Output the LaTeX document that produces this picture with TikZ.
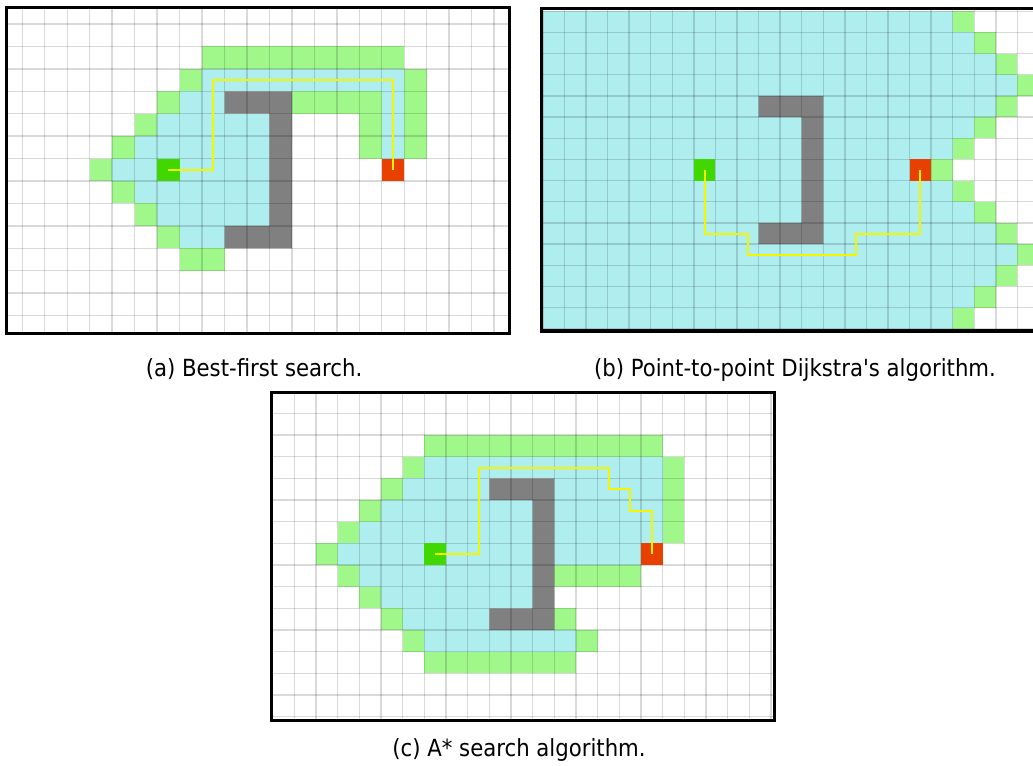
\documentclass[tikz,border=0pt]{standalone}
\usepackage{fontspec}
\setmainfont{DejaVu Sans Condensed}[Ligatures=TeXOff]
\definecolor{closedset}{HTML}{AFEEEE}
\definecolor{openset}{HTML}{A0F88A}
\definecolor{wallc}{HTML}{808080}
\definecolor{startc}{HTML}{40D800}
\definecolor{goalc}{HTML}{E84000}
\definecolor{routec}{HTML}{F5F500}
\newcommand{\cells}[4]{\fill[#1] (#3,#2) rectangle ({#4+1},{#2+1});}
\newcommand{\walls}{\fill[wallc] (10,4) rectangle (13,5) (12,5) rectangle (13,10) (10,10) rectangle (13,11);}
\newcommand{\gridlines}{%
  \foreach \i in {-1,...,24} \draw[gridline] (\i,-1) -- (\i,16);
  \foreach \j in {-1,...,16} \draw[gridline] (-1,\j) -- (25,\j);}
\newcommand{\startgoal}{\cells{startc}{7}{7}{7}\cells{goalc}{7}{17}{17}}
\tikzset{
  gridline/.style={draw=black, draw opacity=0.15, line width=1.05pt},
  route/.style={draw=routec, line width=1.5pt},
  frame/.style={draw=black, line width=2.25pt},
  subcap/.style={font=\fontsize{17.7}{20}\selectfont, anchor=base, inner sep=0pt},
}
\begin{document}
\begin{tikzpicture}[x=0.75pt, y=-0.75pt]
  \useasboundingbox (0,0) rectangle (1033,765);
  \fill[white] (0,0) rectangle (1033,765);
  % (a)
  \begin{scope}
    \clip (6.7,7.7) rectangle (509,333.3);
    \begin{scope}[shift={(-0.14,1.57)}, x=16.85pt, y=-16.82pt]
      \cells{openset}{2}{9}{17}
      \cells{openset}{3}{8}{8} \cells{closedset}{3}{9}{17} \cells{openset}{3}{18}{18}
      \cells{openset}{4}{7}{7} \cells{closedset}{4}{8}{9} \cells{openset}{4}{13}{16} \cells{closedset}{4}{17}{17} \cells{openset}{4}{18}{18}
      \cells{openset}{5}{6}{6} \cells{closedset}{5}{7}{11} \cells{openset}{5}{16}{16} \cells{closedset}{5}{17}{17} \cells{openset}{5}{18}{18}
      \cells{openset}{6}{5}{5} \cells{closedset}{6}{6}{11} \cells{openset}{6}{16}{16} \cells{closedset}{6}{17}{17} \cells{openset}{6}{18}{18}
      \cells{openset}{7}{4}{4} \cells{closedset}{7}{5}{11}
      \cells{openset}{8}{5}{5} \cells{closedset}{8}{6}{11}
      \cells{openset}{9}{6}{6} \cells{closedset}{9}{7}{11}
      \cells{openset}{10}{7}{7} \cells{closedset}{10}{8}{9}
      \cells{openset}{11}{8}{9}
      \walls
      \gridlines
      \startgoal
      \draw[route] (7.5,7.5) -- (9.5,7.5) -- (9.5,3.5) -- (17.5,3.5) -- (17.5,7.5);
    \end{scope}
  \end{scope}
  \draw[frame] (6.7,7.7) rectangle (509,333.3);
  \node[subcap] (capa) at (254,376) {(a) Best-first search.};
  % (b)
  \begin{scope}
    \clip (541.3,8.3) rectangle (1033,330.8);
    \begin{scope}[shift={(542.8,11.2)}, x=16.18pt, y=-15.88pt]
      \foreach \r/\e in {0/19,1/20,2/21,3/22,4/21,5/20,6/19,7/18,8/19,9/20,10/21,11/22,12/21,13/20,14/19}{
        \cells{closedset}{\r}{0}{\e-1}
        \cells{openset}{\r}{\e}{\e}
      }
      \walls
      \gridlines
      \startgoal
      \draw[route] (7.5,7.5) -- (7.5,10.5) -- (9.5,10.5) -- (9.5,11.5) -- (14.5,11.5) -- (14.5,10.5) -- (17.5,10.5) -- (17.5,7.5);
    \end{scope}
  \end{scope}
  \draw[frame, line width=2.6pt] (1040,8.3) -| (541.3,330.8) -- (1040,330.8);
  \node[subcap] (capb) at (795,376) {(b) Point-to-point Dijkstra's algorithm.};
  % (c)
  \begin{scope}
    \clip (271.7,392.3) rectangle (774.7,720);
    \begin{scope}[shift={(272.7,391.7)}, x=16.25pt, y=-16.25pt]
      \cells{openset}{2}{7}{17}
      \cells{openset}{3}{6}{6} \cells{closedset}{3}{7}{17} \cells{openset}{3}{18}{18}
      \cells{openset}{4}{5}{5} \cells{closedset}{4}{6}{9} \cells{closedset}{4}{13}{17} \cells{openset}{4}{18}{18}
      \cells{openset}{5}{4}{4} \cells{closedset}{5}{5}{11} \cells{closedset}{5}{13}{17} \cells{openset}{5}{18}{18}
      \cells{openset}{6}{3}{3} \cells{closedset}{6}{4}{11} \cells{closedset}{6}{13}{17} \cells{openset}{6}{18}{18}
      \cells{openset}{7}{2}{2} \cells{closedset}{7}{3}{16}
      \cells{openset}{8}{3}{3} \cells{closedset}{8}{4}{11} \cells{openset}{8}{13}{16}
      \cells{openset}{9}{4}{4} \cells{closedset}{9}{5}{11}
      \cells{openset}{10}{5}{5} \cells{closedset}{10}{6}{9} \cells{openset}{10}{13}{13}
      \cells{openset}{11}{6}{6} \cells{closedset}{11}{7}{13} \cells{openset}{11}{14}{14}
      \cells{openset}{12}{7}{13}
      \walls
      \gridlines
      \startgoal
      \draw[route] (7.5,7.5) -- (9.5,7.5) -- (9.5,3.5) -- (15.5,3.5) -- (15.5,4.5) -- (16.5,4.5) -- (16.5,5.5) -- (17.5,5.5) -- (17.5,7.5);
    \end{scope}
  \end{scope}
  \draw[frame] (271.7,392.3) rectangle (774.7,720);
  \node[subcap] (capc) at (519,756) {(c) A* search algorithm.};
\end{tikzpicture}
\end{document}
